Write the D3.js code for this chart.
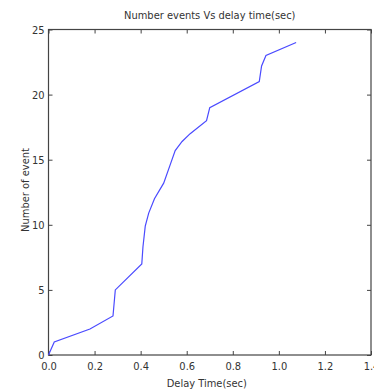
<!DOCTYPE html>
<html>
<head>
<meta charset="utf-8">
<script src="https://cdn.jsdelivr.net/npm/d3@7"></script>
<style>
  body { margin: 0; background: #fff; }
  text { font-family: "Liberation Sans Narrow", "DejaVu Sans Condensed", sans-serif; fill: #333; }
</style>
</head>
<body>
<div id="chart"></div>
<script>
var svgWidth = 374;
var svgHeight = 392;

var margin = { top: 29.5, bottom: 37, left: 48.5, right: 3 };
var chartWidth = svgWidth - margin.left - margin.right;
var chartHeight = svgHeight - margin.top - margin.bottom;

// data
var delayTime = [0, 0.025, 0.18, 0.28, 0.29, 0.405, 0.41, 0.42, 0.435, 0.46, 0.5, 0.53, 0.55, 0.58, 0.615, 0.686, 0.70, 0.915, 0.925, 0.944, 1.075];
var numEvents = [0, 1, 2, 3, 5, 7, 8.3, 9.9, 10.9, 12, 13.2, 14.7, 15.7, 16.4, 17, 18, 19, 21, 22.2, 23, 24];
var xTicks = [0, 0.2, 0.4, 0.6, 0.8, 1, 1.2, 1.4];
var yTicks = [0, 5, 10, 15, 20, 25];

var svg = d3.select("#chart")
    .append("svg")
    .attr("width", svgWidth)
    .attr("height", svgHeight);

var chartGroup = svg.append("g")
    .attr("transform", `translate(${margin.left}, ${margin.top})`);

var x = d3.scaleLinear().domain([0, 1.4]).range([0, chartWidth]);
var y = d3.scaleLinear().domain([0, 25]).range([chartHeight, 0]);

function styleAxis(g) {
    g.select(".domain").remove();
    g.selectAll("line").attr("stroke", "#444");
    g.selectAll("text").style("font-size", "11px").attr("fill", "#333");
}

chartGroup.append("g")
    .attr("transform", `translate(0, ${chartHeight})`)
    .call(d3.axisBottom(x).tickValues(xTicks).tickSize(-4).tickPadding(7))
    .call(styleAxis);
chartGroup.append("g")
    .call(d3.axisTop(x).tickValues(xTicks).tickSize(-4).tickFormat(""))
    .call(styleAxis);
chartGroup.append("g")
    .call(d3.axisLeft(y).tickValues(yTicks).tickSize(-4).tickPadding(4))
    .call(styleAxis);
chartGroup.append("g")
    .attr("transform", `translate(${chartWidth}, 0)`)
    .call(d3.axisRight(y).tickValues(yTicks).tickSize(-4).tickFormat(""))
    .call(styleAxis);

chartGroup.append("rect")
    .attr("width", chartWidth)
    .attr("height", chartHeight)
    .attr("fill", "none")
    .attr("stroke", "#444")
    .attr("stroke-width", 1.2);

var line = d3.line()
    .x(d => x(d[0]))
    .y(d => y(d[1]));

chartGroup.append("path")
    .datum(d3.zip(delayTime, numEvents))
    .attr("d", line)
    .attr("fill", "none")
    .attr("stroke", "#4a4aff")
    .attr("stroke-width", 1.2);

svg.append("text")
    .attr("x", margin.left + chartWidth / 2)
    .attr("y", 19)
    .attr("text-anchor", "middle")
    .style("font-size", "11px")
    .text("Number events Vs delay time(sec)");

svg.append("text")
    .attr("x", margin.left + chartWidth / 2 - 3)
    .attr("y", 387)
    .attr("text-anchor", "middle")
    .style("font-size", "11px")
    .text("Delay Time(sec)");

svg.append("text")
    .attr("transform", "rotate(-90)")
    .attr("x", -190)
    .attr("y", 29)
    .attr("text-anchor", "middle")
    .style("font-size", "11px")
    .text("Number of event");
</script>
</body>
</html>
